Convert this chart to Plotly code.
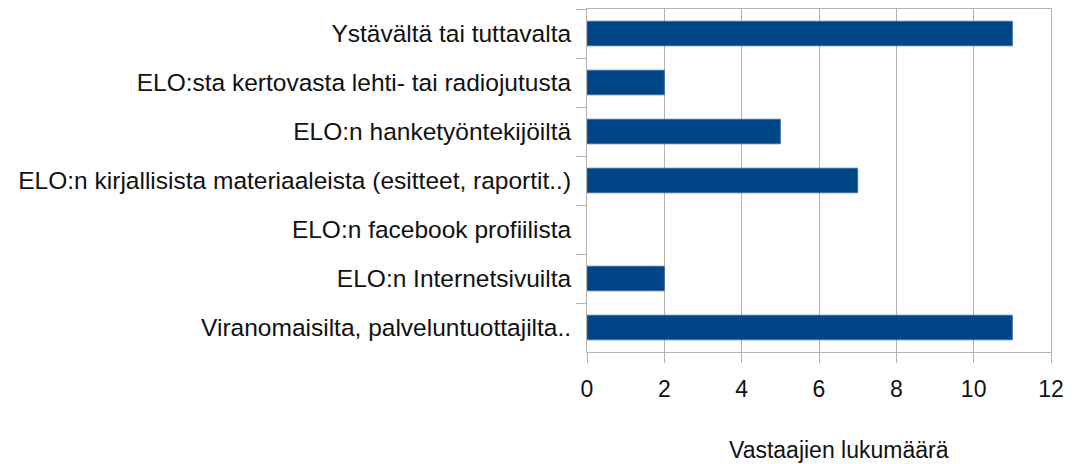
import plotly.graph_objects as go

categories = [
    "Ystävältä tai tuttavalta",
    "ELO:sta kertovasta lehti- tai radiojutusta",
    "ELO:n hanketyöntekijöiltä",
    "ELO:n kirjallisista materiaaleista (esitteet, raportit..)",
    "ELO:n facebook profiilista",
    "ELO:n Internetsivuilta",
    "Viranomaisilta, palveluntuottajilta..",
]
values = [11, 2, 5, 7, 0, 2, 11]
x_ticks = [0, 2, 4, 6, 8, 10, 12]
x_title = "Vastaajien lukumäärä"

W, H = 1078, 464
L, R, T, B = 587, 27, 9, 112
FONT = dict(family="Liberation Sans, Arial, sans-serif", size=24.5, color="#111111")
TFONT = dict(family="Liberation Sans, Arial, sans-serif", size=23, color="#111111")
GRID = "#b3b3b3"

fig = go.Figure(go.Bar(
    x=values, y=categories, orientation="h",
    marker=dict(color="#004586",
                line=dict(color="#3b6fa3", width=[1 if v > 0 else 0 for v in values])),
    width=0.5,
))

fig.update_layout(
    width=W, height=H,
    margin=dict(l=L, r=R, t=T, b=B, autoexpand=False),
    paper_bgcolor="white", plot_bgcolor="white",
    showlegend=False,
    font=FONT,
    xaxis=dict(
        range=[0, 12], tickvals=x_ticks, ticktext=[str(v) for v in x_ticks],
        showgrid=True, gridcolor=GRID, gridwidth=1,
        showline=True, linecolor=GRID, linewidth=1, mirror=True,
        ticks="outside", ticklen=10, tickcolor=GRID, tickwidth=1,
        ticklabelstandoff=6,
        zeroline=False, tickfont=TFONT, fixedrange=True,
    ),
    yaxis=dict(
        categoryorder="array", categoryarray=categories, autorange="reversed",
        showgrid=False,
        showline=True, linecolor=GRID, linewidth=1, mirror=True,
        ticks="outside", ticklen=10, tickcolor=GRID, tickwidth=1,
        tickson="boundaries", ticklabelstandoff=10,
        tickfont=FONT, fixedrange=True,
    ),
    annotations=[dict(
        text=x_title, xref="paper", yref="paper",
        x=(839 - L) / (W - L - R), y=-(450 - (H - B)) / (H - B - T),
        xanchor="center", yanchor="middle", showarrow=False, font=TFONT,
    )],
)

fig.write_html("out.html", config={"displayModeBar": False},
               post_script="document.body.style.margin='0';document.body.style.overflow='hidden';")
